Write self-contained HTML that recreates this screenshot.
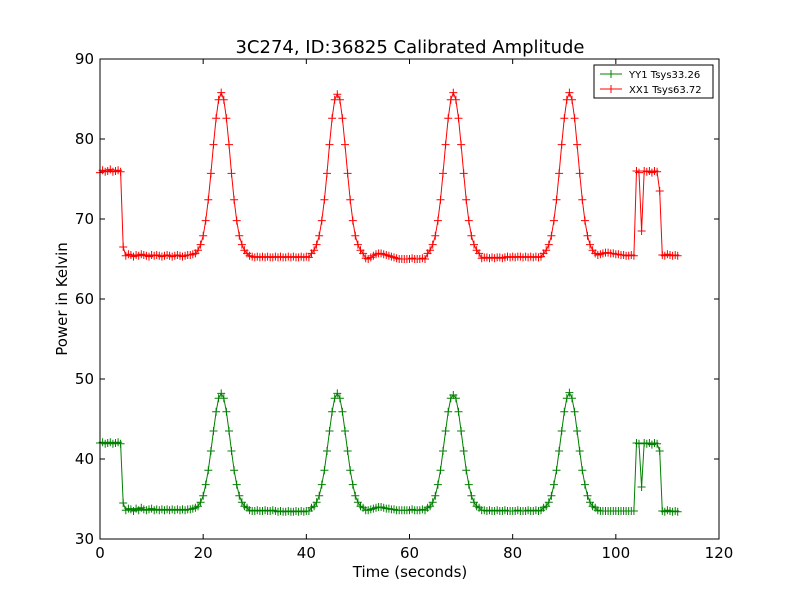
<!DOCTYPE html>
<html><head><meta charset="utf-8"><style>
body{margin:0;background:#fff}
svg text{font-family:"DejaVu Sans","Liberation Sans",sans-serif}
</style></head><body>
<svg id="chart" width="800" height="600" xmlns="http://www.w3.org/2000/svg">
<rect width="800" height="600" fill="#fff"/>
<text x="410" y="53" font-size="18" text-anchor="middle">3C274, ID:36825 Calibrated Amplitude</text>
<g id="plot"></g>
<g id="axes"></g>
<text x="410" y="577" font-size="15" text-anchor="middle">Time (seconds)</text>
<text transform="translate(67,299) rotate(-90)" font-size="15" text-anchor="middle">Power in Kelvin</text>
<g>
<rect x="594" y="65" width="119" height="33" fill="#fff" stroke="#000" stroke-width="1"/>
<line x1="600" y1="74" x2="622" y2="74" stroke="green"/><line x1="611" y1="70" x2="611" y2="78" stroke="green"/><line x1="604" y1="74" x2="618" y2="74" stroke="green"/>
<text x="629" y="78" font-size="10">YY1 Tsys33.26</text>
<line x1="600" y1="89" x2="622" y2="89" stroke="red"/><line x1="611" y1="85" x2="611" y2="93" stroke="red"/>
<text x="629" y="93" font-size="10">XX1 Tsys63.72</text>
</g>
</svg>
<script>
const xTicks=[0,20,40,60,80,100,120];
const yTicks=[30,40,50,60,70,80,90];
const xx1Values=[75.8,76.1,75.9,76.0,76.2,75.9,76.0,76.1,75.9,
66.5,
65.4,65.6,65.5,65.3,65.5,65.4,65.6,65.5,65.4,65.3,65.5,65.4,65.5,65.4,65.3,65.4,65.5,65.4,65.3,65.4,65.5,65.4,65.3,65.4,65.5,
65.5,65.6,
65.7,66.1,66.8,67.9,69.8,72.4,75.7,79.3,82.6,84.9,85.8,84.9,82.6,79.3,75.7,72.4,69.8,67.9,66.8,66.1,65.7,
65.4,65.3,65.2,65.3,65.2,65.3,65.2,65.3,65.2,65.2,65.3,65.2,65.3,65.2,65.2,65.3,65.2,65.3,65.2,65.2,65.3,65.2,65.3,65.2,
65.7,66.1,66.8,67.9,69.8,72.4,75.7,79.3,82.6,84.9,85.6,84.9,82.6,79.3,75.7,72.4,69.8,67.9,66.8,66.1,65.7,
65.1,65.0,65.2,65.4,65.6,65.7,65.7,65.6,65.5,65.4,65.3,65.2,65.1,65.0,65.0,65.0,65.0,65.0,65.1,65.0,65.0,65.0,65.1,65.0,
65.7,66.1,66.8,67.9,69.8,72.4,75.7,79.3,82.6,84.9,85.8,84.9,82.6,79.3,75.7,72.4,69.8,67.9,66.8,66.1,65.7,
65.1,65.2,65.2,65.1,65.2,65.1,65.2,65.2,65.1,65.2,65.3,65.2,65.3,65.2,65.3,65.3,65.2,65.3,65.2,65.3,65.2,65.3,65.2,65.3,
65.7,66.1,66.8,67.9,69.8,72.4,75.7,79.3,82.6,84.9,85.8,84.9,82.6,79.3,75.7,72.4,69.8,67.9,66.8,66.1,65.7,
65.5,65.6,65.7,65.8,65.8,65.7,65.7,65.6,65.6,65.5,65.5,65.4,65.4,65.5,65.4,
76.0,75.8,68.5,76.0,
75.9,76.0,75.8,76.0,75.9,
73.5,
65.5,65.4,65.6,65.5,65.4,65.5,65.4];
const yy1Values=[42.0,42.1,41.9,42.0,42.1,41.9,42.0,42.1,41.9,
34.5,
33.6,33.8,33.7,33.5,33.8,33.6,33.9,33.7,33.6,33.7,33.8,33.6,33.7,33.6,33.7,33.6,33.7,33.6,33.7,33.6,33.7,33.6,33.7,33.6,33.7,
33.7,33.8,
33.9,34.1,34.6,35.4,36.8,38.6,41.0,43.5,45.9,47.6,48.2,47.6,45.9,43.5,41.0,38.6,36.8,35.4,34.6,34.1,33.9,
33.6,33.5,33.5,33.6,33.5,33.5,33.6,33.5,33.5,33.6,33.5,33.4,33.5,33.4,33.4,33.5,33.4,33.4,33.5,33.4,33.5,33.4,33.5,33.5,
33.9,34.1,34.6,35.4,36.8,38.6,41.0,43.5,45.9,47.6,48.2,47.6,45.9,43.5,41.0,38.6,36.8,35.4,34.6,34.1,33.9,
33.6,33.6,33.7,33.8,33.9,34.0,34.0,33.9,33.8,33.8,33.7,33.7,33.6,33.6,33.6,33.6,33.6,33.6,33.7,33.6,33.6,33.6,33.7,33.6,
33.9,34.1,34.6,35.4,36.8,38.6,41.0,43.5,45.9,47.6,48.0,47.6,45.9,43.5,41.0,38.6,36.8,35.4,34.6,34.1,33.9,
33.6,33.6,33.5,33.6,33.5,33.5,33.6,33.5,33.5,33.6,33.5,33.5,33.5,33.5,33.6,33.5,33.5,33.5,33.6,33.5,33.5,33.6,33.5,33.6,
33.9,34.1,34.6,35.4,36.8,38.6,41.0,43.5,45.9,47.6,48.3,47.6,45.9,43.5,41.0,38.6,36.8,35.4,34.6,34.1,33.9,
33.6,33.5,33.5,33.5,33.5,33.5,33.5,33.5,33.5,33.5,33.5,33.5,33.5,33.5,33.5,
42.0,41.9,36.5,42.0,
41.9,42.0,41.8,42.0,41.9,
41.0,
33.5,33.4,33.6,33.5,33.4,33.5,33.4];
const sampleStep=0.5;
const NS='http://www.w3.org/2000/svg';
const L=100,R=719,T=59,B=539;
const xs=t=>L+(t-0)/(120-0)*(R-L);
const ys=v=>B-(v-30)/(90-30)*(B-T);
const plot=document.getElementById('plot'),axes=document.getElementById('axes');
function mk(tag,attrs,parent){const e=document.createElementNS(NS,tag);for(const k in attrs)e.setAttribute(k,attrs[k]);parent.appendChild(e);return e;}
function series(vals,color,name){
  const g=mk('g',{},plot);
  
  
  const pts=vals.map((v,i)=>xs(i*sampleStep).toFixed(1)+','+ys(v).toFixed(1)).join(' ');
  const pl=mk('polyline',{points:pts,fill:'none',stroke:color,'stroke-width':1},g);
  
  
  let d='';
  vals.forEach((v,i)=>{const x=xs(i*sampleStep),y=ys(v);d+=`M${(x-4).toFixed(1)} ${y.toFixed(1)}h8M${x.toFixed(1)} ${(y-4).toFixed(1)}v8`;});
  const m=mk('path',{d:d,stroke:color,'stroke-width':1,fill:'none'},g);
  
  
}
series(yy1Values,'green','series-yy1');
series(xx1Values,'red','series-xx1');
mk('rect',{x:L,y:T,width:R-L,height:B-T,fill:'none',stroke:'#000','stroke-width':1},axes);
xTicks.forEach(t=>{const x=xs(t);
  mk('line',{x1:x,y1:B,x2:x,y2:B-5,stroke:'#000'},axes);
  mk('line',{x1:x,y1:T,x2:x,y2:T+5,stroke:'#000'},axes);
  const tx=mk('text',{x:x,y:B+19,'font-size':15,'text-anchor':'middle'},axes);
  
  
  tx.textContent=t;});
yTicks.forEach(v=>{const y=ys(v);
  mk('line',{x1:L,y1:y,x2:L+5,y2:y,stroke:'#000'},axes);
  mk('line',{x1:R,y1:y,x2:R-5,y2:y,stroke:'#000'},axes);
  const tx=mk('text',{x:L-6,y:y+5,'font-size':15,'text-anchor':'end'},axes);
  
  
  tx.textContent=v;});
</script>
</body></html>
